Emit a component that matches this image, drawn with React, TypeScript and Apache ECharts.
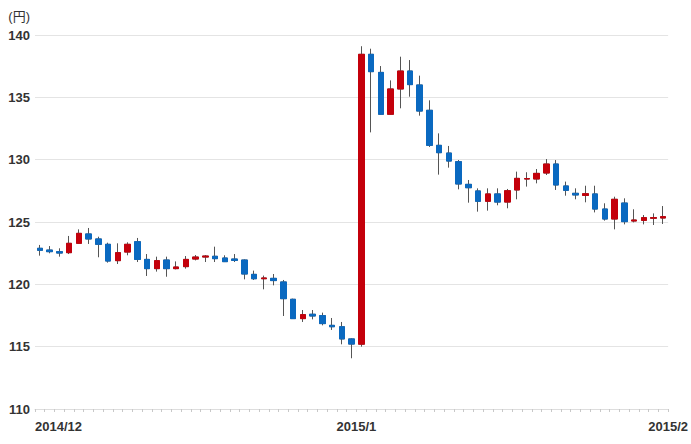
import React, { useEffect, useRef } from "react";
import * as echarts from "echarts";

// Candle values (open, close, low, high)
const openValues = [
  122.89, 122.75, 122.62, 122.54, 123.29, 124.04, 123.64, 123.21, 121.9, 122.59,
  123.42, 122.0, 121.26, 121.95, 121.26, 121.42, 122.03, 122.19, 122.25, 122.11,
  122.03, 121.95, 120.8, 120.45, 120.48, 120.19, 118.8, 117.25, 117.6, 117.49,
  116.71, 116.6, 115.62, 115.2, 138.45, 137.0, 133.64, 135.67, 137.11, 135.99,
  133.96, 131.15, 130.53, 129.84, 128.02, 127.49, 126.66, 127.25, 126.6, 127.57,
  128.45, 128.45, 128.93, 129.65, 127.89, 127.3, 127.13, 127.25, 126.04, 125.24,
  126.52, 125.08, 125.13, 125.3, 125.32,
];
const closeValues = [
  122.73, 122.62, 122.51, 123.29, 124.09, 123.64, 123.21, 121.87, 122.54, 123.21,
  122.0, 121.26, 121.9, 121.26, 121.39, 122.0, 122.19, 122.27, 122.06, 121.82,
  121.92, 120.83, 120.45, 120.51, 120.3, 118.85, 117.25, 117.57, 117.46, 116.85,
  116.6, 115.62, 115.21, 138.45, 137.06, 133.64, 135.67, 137.11, 136.02, 133.9,
  131.15, 130.56, 129.89, 128.05, 127.75, 126.66, 127.25, 126.6, 127.51, 128.5,
  128.48, 128.9, 129.65, 127.97, 127.54, 127.17, 127.27, 126.04, 125.24, 126.82,
  125.03, 125.16, 125.35, 125.35, 125.43,
];
const lowValues = [
  122.3, 122.49, 122.22, 122.43, 123.25, 123.24, 122.17, 121.74, 121.63, 122.33,
  121.79, 120.67, 121.02, 120.61, 121.2, 121.26, 121.92, 121.79, 121.79, 121.79,
  121.79, 120.4, 120.35, 119.6, 119.92, 117.46, 117.25, 116.98, 117.19, 116.71,
  116.34, 115.19, 114.07, 115.0, 132.19, 133.6, 133.6, 134.12, 135.05, 133.53,
  131.02, 128.8, 129.36, 127.62, 126.55, 125.83, 125.91, 126.34, 126.1, 126.82,
  127.84, 128.1, 128.77, 127.57, 127.11, 126.82, 126.58, 125.77, 125.11, 124.41,
  124.81, 124.97, 124.81, 124.76, 124.84,
];
const highValues = [
  123.16, 123.07, 122.89, 123.88, 124.41, 124.52, 123.82, 123.34, 123.29, 123.37,
  123.72, 122.43, 122.22, 122.22, 121.84, 122.27, 122.35, 122.35, 123.02, 122.33,
  122.43, 122.0, 121.1, 120.7, 120.83, 120.35, 118.85, 117.94, 117.94, 117.73,
  117.3, 116.98, 115.67, 139.1, 138.9, 137.51, 136.36, 138.26, 137.99, 136.74,
  134.76, 132.11, 131.1, 129.97, 128.37, 127.7, 127.7, 127.7, 127.65, 129.04,
  128.99, 129.25, 130.05, 129.97, 128.24, 127.7, 127.91, 127.91, 126.5, 127.03,
  126.9, 126.02, 125.56, 125.69, 126.28,
];
const tickLabels = ["2014/12", "2015/1", "2015/2"];
// slot boundary (in candle units) at which each tick label sits
const tickLabelSlots = [0, 33, 65];
const yTicks = { min: 110, max: 140, interval: 5 };
const startDate = "2014-11-29";

const UP = "#c4000b";
const DOWN = "#0a69c0";
const WICK = "#555555";
const FONT = "'Liberation Sans', Arial, 'Noto Sans CJK JP', sans-serif";

function buildCategories(n: number): string[] {
  const out: string[] = [];
  const d = new Date(startDate + "T00:00:00Z");
  for (let i = 0; i < n; i++) {
    out.push(`${d.getUTCFullYear()}/${d.getUTCMonth() + 1}/${d.getUTCDate()}`);
    d.setUTCDate(d.getUTCDate() + 1);
  }
  return out;
}

export default function App() {
  const ref = useRef<HTMLDivElement>(null);
  useEffect(() => {
    if (!ref.current) return;
    const chart = echarts.init(ref.current, null, { renderer: "svg" });
    const n = openValues.length;
    const categories = buildCategories(n);
    const full = openValues.map((o, i) => [o, closeValues[i], lowValues[i], highValues[i]]);
    const bodies = openValues.map((o, i) => {
      const c = closeValues[i];
      return [o, c, Math.min(o, c), Math.max(o, c)];
    });
    chart.setOption({
      animation: false,
      textStyle: { fontFamily: FONT },
      grid: { left: 35, right: 21, top: 35, bottom: 35 },
      xAxis: [
        {
          type: "category",
          data: categories,
          boundaryGap: true,
          axisLine: { show: true, lineStyle: { color: "#dddddd", width: 1 } },
          axisTick: { show: true, interval: 0, length: 3, lineStyle: { color: "#c8c8c8" } },
          axisLabel: { show: false },
          splitLine: { show: false },
        },
        {
          type: "value",
          position: "bottom",
          min: 0,
          max: n,
          interval: 1,
          axisLine: { show: false },
          axisTick: { show: false },
          splitLine: { show: false },
          axisLabel: {
            show: true,
            margin: 11,
            color: "#333333",
            fontSize: 13,
            fontWeight: "bold",
            fontFamily: FONT,
            alignMinLabel: "left",
            alignMaxLabel: "center",
            formatter: (v: number) => {
              const k = tickLabelSlots.indexOf(Math.round(v));
              return k >= 0 ? tickLabels[k] : "";
            },
          },
        },
      ],
      yAxis: {
        type: "value",
        min: yTicks.min,
        max: yTicks.max,
        interval: yTicks.interval,
        name: "(円)",
        nameLocation: "end",
        nameGap: 12,
        nameTextStyle: {
          color: "#333333",
          fontSize: 13,
          fontFamily: FONT,
          align: "right",
          padding: [0, 5, 0, 0],
        },
        axisLine: { show: false },
        axisTick: { show: false },
        axisLabel: {
          color: "#333333",
          fontSize: 13,
          fontWeight: "bold",
          margin: 5,
          fontFamily: FONT,
        },
        splitLine: { lineStyle: { color: "#e4e4e4", width: 1 } },
      },
      series: [
        {
          type: "candlestick",
          xAxisIndex: 0,
          data: full,
          barWidth: 6,
          itemStyle: {
            color: "transparent",
            color0: "transparent",
            borderColor: WICK,
            borderColor0: WICK,
            borderColorDoji: WICK,
            borderWidth: 1,
          },
        },
        {
          type: "candlestick",
          xAxisIndex: 0,
          data: bodies,
          barWidth: 6,
          itemStyle: {
            color: UP,
            color0: DOWN,
            borderColor: UP,
            borderColor0: DOWN,
            borderColorDoji: UP,
            borderWidth: 1,
          },
        },
      ],
    });
    return () => chart.dispose();
  }, []);
  return (
    <div
      ref={ref}
      style={{ position: "fixed", left: 0, top: 0, width: 691, height: 444, background: "#ffffff" }}
    />
  );
}
